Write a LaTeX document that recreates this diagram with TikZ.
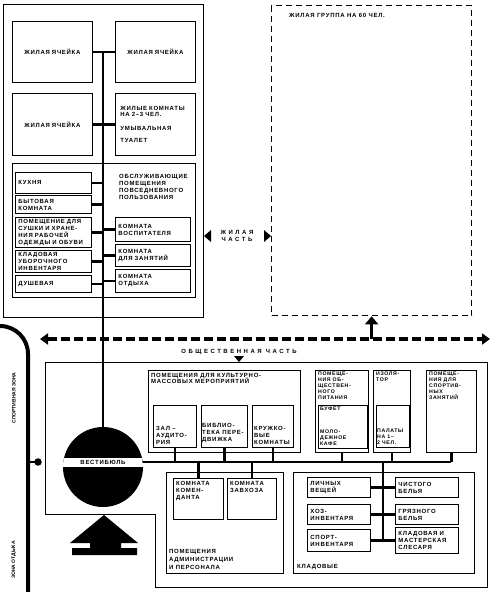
\documentclass[tikz,border=0pt]{standalone}
\usepackage{fontspec}
\usepackage{tikz}
\usetikzlibrary{
  arrows.meta,
  positioning,
  calc
}
\newfontfamily\labfont[LetterSpace=12]{Liberation Sans}
\newfontfamily\widefont[LetterSpace=42]{Liberation Sans}
\newfontfamily\narrowfont{Liberation Sans}
\newcommand\labsize{\fontsize{6pt}{7pt}\selectfont}
\newcommand\smallsize{\fontsize{5.2pt}{6pt}\selectfont}
\tikzset{
  room/.style={
    draw, line width=0.9pt, anchor=north west, inner xsep=3pt, inner ysep=1pt,
    align=left, font=\labfont\bfseries\labsize
  },
  cellbox/.style={room, align=center},
  hall/.style={draw, line width=0.9pt, anchor=north west, inner sep=0pt},
  zonebox/.style={draw, line width=1pt, anchor=north west, inner sep=0pt},
  groupbox/.style={draw, line width=1.3pt, dash pattern=on 6pt off 4pt, anchor=north west, inner sep=0pt},
  lbl/.style={inner sep=0pt, align=left, font=\labfont\bfseries\labsize},
  lblsmall/.style={inner sep=0pt, align=left, font=\labfont\bfseries\smallsize},
  widelbl/.style={inner sep=0pt, align=center, font=\widefont\bfseries\labsize},
  sidelbl/.style={inner sep=0pt, rotate=90, font=\narrowfont\bfseries\fontsize{5pt}{5pt}\selectfont},
  link/.style={line width=2.8pt},
  thinlink/.style={line width=2.2pt},
  zoneline/.style={line width=3.4pt, dash pattern=on 9pt off 4pt, {Triangle[length=8pt,width=11pt]}-{Triangle[length=8pt,width=11pt]}},
  uparrow/.style={line width=3.4pt, -{Triangle[length=8pt,width=13pt]}},
  sportline/.style={line width=4pt}
}

\begin{document}
\begin{tikzpicture}[x=1pt, y=-1pt]
  \fill[white, use as bounding box] (0,0) rectangle (493,592);

  % residential part
  \node[zonebox, minimum width=200pt, minimum height=313pt] (resid) at (3,4) {};
  \node[cellbox, text width=74pt, minimum height=61pt] (cellA) at (12,21) {ЖИЛАЯ ЯЧЕЙКА};
  \node[cellbox, text width=74pt, minimum height=61pt] (cellB) at (115,21) {ЖИЛАЯ ЯЧЕЙКА};
  \node[cellbox, text width=74pt, minimum height=62pt] (cellC) at (12,93) {ЖИЛАЯ ЯЧЕЙКА};
  \node[room, text width=70pt, inner xsep=5pt, minimum height=62pt] (rooms) at (115,93)
    {ЖИЛЫЕ КОМНАТЫ\\[-1.5pt]НА 2–3 ЧЕЛ.\\[7pt]УМЫВАЛЬНАЯ\\[5pt]ТУАЛЕТ};
  \node[hall, minimum width=183pt, minimum height=134pt] (serv) at (12,163) {};
  \node[lbl, anchor=north west] (servT) at (119,174) {ОБСЛУЖИВАЮЩИЕ\\ПОМЕЩЕНИЯ\\ПОВСЕДНЕВНОГО\\ПОЛЬЗОВАНИЯ};
  \node[room, text width=70pt, minimum height=21pt] (kitchen) at (15,172) {КУХНЯ};
  \node[room, text width=70pt, minimum height=18pt] (bytov) at (15,195) {БЫТОВАЯ\\КОМНАТА};
  \node[room, text width=70pt, minimum height=30pt] (sushka) at (15,217) {ПОМЕЩЕНИЕ ДЛЯ\\СУШКИ И ХРАНЕ-\\НИЯ РАБОЧЕЙ\\ОДЕЖДЫ И ОБУВИ};
  \node[room, text width=70pt, minimum height=22pt] (klad) at (15,250) {КЛАДОВАЯ\\УБОРОЧНОГО\\ИНВЕНТАРЯ};
  \node[room, text width=70pt, minimum height=17pt] (dush) at (15,275) {ДУШЕВАЯ};
  \node[room, text width=69pt, minimum height=24pt] (vosp) at (115,217) {КОМНАТА\\ВОСПИТАТЕЛЯ};
  \node[room, text width=69pt, minimum height=22pt] (zan) at (115,244) {КОМНАТА\\ДЛЯ ЗАНЯТИЙ};
  \node[room, text width=69pt, minimum height=23pt] (otd) at (115,269) {КОМНАТА\\ОТДЫХА};

  \node[groupbox, minimum width=200pt, minimum height=310pt] (grp) at (271,5) {};
  \node[lbl, anchor=west] (grpT) at (289,15) {ЖИЛАЯ ГРУППА НА 60 ЧЕЛ.};

  \node[widelbl] (zhT) at (237,236) {ЖИЛАЯ\\ЧАСТЬ};
  \fill (resid.east |- zhT) -- ++(7,-6) -- ++(0,12) -- cycle;
  \fill (grp.west |- zhT) -- ++(-7,-6) -- ++(0,12) -- cycle;

  \coordinate (pubL) at (40,339);
  \coordinate (pubR) at (490,339);
  \draw[zoneline] (pubL) -- (pubR);
  \draw[uparrow] (grp.south |- pubL) -- (grp.south);

  % public part
  \coordinate (pubTop) at (45,362);
  \node[widelbl] (pubT) at (239,352) {ОБЩЕСТВЕННАЯ ЧАСТЬ};
  \fill (pubT.south |- pubTop) -- ++(-5,-6) -- ++(10,0) -- cycle;
  \draw[line width=1pt] (pubTop) -| (487,587) -| (155,514) -- (45,514) -- cycle;

  \coordinate (sportA) at (28,354);
  \draw[sportline] (0,326) .. controls (15.5,326) and (28,338.5) .. (sportA) -- (28,595);
  \node[circle, fill, inner sep=0pt, minimum size=7.5pt] (sdot) at (38,462) {};
  \draw[line width=2pt] (sdot.center) -- (sdot.center -| sportA);
  \node[sidelbl] (sportT) at (14,398) {СПОРТИВНАЯ ЗОНА};
  \node[sidelbl] (restT) at (14,560) {ЗОНА ОТДЫХА};

  \node[circle, fill=black, minimum size=80pt, inner sep=0pt] (vest) at (103,467) {};
  \begin{scope}
    \clip (vest.center) circle (40pt);
    \fill[white] ($(vest.west)+(0,-9)$) rectangle (vest.east);
  \end{scope}
  \node[lbl] (vestT) at ($(vest.center)+(0,-4.5)$) {ВЕСТИБЮЛЬ};

  \coordinate (entr) at (104,515);
  \fill (entr) -- ++(34,28) -- ++(-17,0) -- ++(0,5) -- ++(16,0) -- ++(0,7) -- ++(-65,0)
    -- ++(0,-7) -- ++(18,0) -- ++(0,-5) -- ++(-20,0) -- cycle;

  \node[hall, minimum width=152pt, minimum height=82pt] (cult) at (148,370) {};
  \node[lbl, anchor=north west] (cultT) at (151,373) {ПОМЕЩЕНИЯ ДЛЯ КУЛЬТУРНО-\\[-1pt]МАССОВЫХ МЕРОПРИЯТИЙ};
  \node[hall, minimum width=43pt, minimum height=42pt] (zal) at (153,405) {};
  \node[lbl, anchor=south west] (zalT) at ($(zal.south west)+(3,-3)$) {ЗАЛ –\\АУДИТО-\\РИЯ};
  \node[hall, minimum width=46pt, minimum height=42pt] (bib) at (201,405) {};
  \node[lbl, anchor=south west] (bibT) at ($(bib.south west)+(1,-5)$) {БИБЛИО-\\ТЕКА ПЕРЕ-\\ДВИЖКА};
  \node[hall, minimum width=41pt, minimum height=42pt] (kruzh) at (252,405) {};
  \node[lbl, anchor=south west] (kruzhT) at ($(kruzh.south west)+(2,-3)$) {КРУЖКО-\\ВЫЕ\\КОМНАТЫ};

  \node[hall, minimum width=53pt, minimum height=82pt] (food) at (315,370) {};
  \node[lblsmall, anchor=north west] (foodT) at ($(food.north west)+(3,2)$) {ПОМЕЩЕ-\\НИЯ ОБ-\\ЩЕСТВЕН-\\НОГО\\ПИТАНИЯ};
  \node[hall, minimum width=49pt, minimum height=43pt] (bufet) at (318,405) {};
  \node[lblsmall, anchor=north west] (bufT) at ($(bufet.north west)+(2,2)$) {БУФЕТ};
  \node[lblsmall, anchor=south west] (cafeT) at ($(bufet.south west)+(2,-3)$) {МОЛО-\\ДЕЖНОЕ\\КАФЕ};

  \node[hall, minimum width=37pt, minimum height=82pt] (izol) at (373,370) {};
  \node[lblsmall, anchor=north west] (izolT) at ($(izol.north west)+(3,2)$) {ИЗОЛЯ-\\ТОР};
  \node[hall, minimum width=33pt, minimum height=42pt] (palat) at (376,405) {};
  \node[lblsmall, anchor=south west] (palatT) at ($(palat.south west)+(1,-3)$) {ПАЛАТЫ\\НА 1–\\2 ЧЕЛ.};

  \node[hall, minimum width=50pt, minimum height=82pt] (sportr) at (426,370) {};
  \node[lblsmall, anchor=north west] (sportrT) at ($(sportr.north west)+(3,2)$) {ПОМЕЩЕ-\\НИЯ ДЛЯ\\СПОРТИВ-\\НЫХ\\ЗАНЯТИЙ};

  \node[hall, minimum width=117pt, minimum height=101pt] (adm) at (166,472) {};
  \node[hall, minimum width=50pt, minimum height=41pt] (kom) at (173,478) {};
  \node[lbl, anchor=north west] (komT) at ($(kom.north west)+(3,3)$) {КОМНАТА\\КОМЕН-\\ДАНТА};
  \node[hall, minimum width=49pt, minimum height=41pt] (zavh) at (227,478) {};
  \node[lbl, anchor=north west] (zavhT) at ($(zavh.north west)+(3,3)$) {КОМНАТА\\ЗАВХОЗА};
  \node[lbl, anchor=south west] (admT) at ($(adm.south west)+(3,-4)$) {ПОМЕЩЕНИЯ\\[1pt]АДМИНИСТРАЦИИ\\[1pt]И ПЕРСОНАЛА};

  \node[hall, minimum width=181pt, minimum height=101pt] (stor) at (293,472) {};
  \node[room, text width=57pt, minimum height=20pt] (lich) at (307,477) {ЛИЧНЫХ\\ВЕЩЕЙ};
  \node[room, text width=57pt, minimum height=20pt] (hoz) at (307,504) {ХОЗ-\\ИНВЕНТАРЯ};
  \node[room, text width=57pt, minimum height=22pt] (spinv) at (307,529) {СПОРТ-\\ИНВЕНТАРЯ};
  \node[room, text width=57pt, minimum height=20pt] (chist) at (395,477) {ЧИСТОГО\\БЕЛЬЯ};
  \node[room, text width=57pt, minimum height=20pt] (gryaz) at (395,504) {ГРЯЗНОГО\\БЕЛЬЯ};
  \node[room, text width=57pt, minimum height=26pt] (mast) at (395,527) {КЛАДОВАЯ И\\МАСТЕРСКАЯ\\СЛЕСАРЯ};
  \node[lbl, anchor=west] (storT) at (297,567) {КЛАДОВЫЕ};

  % connections
  \draw[link] (vest.north |- cellA.east) -- (vest.north);
  \draw[link] (cellA.east) -- (cellB.west);
  \draw[link] (cellC.east) -- (rooms.west);
  \foreach \r in {kitchen, bytov, sushka, klad, dush}
    \draw[thinlink] (\r.east) -- (\r.east -| vest.north);
  \foreach \r in {vosp, zan, otd}
    \draw[thinlink] (\r.west) -- (\r.west -| vest.north);

  \coordinate (bus) at ($(vest.east)+(0,-5)$);
  \draw[link] (bus) -- (bus -| sportr.south);
  \foreach \r in {zal, bib, kruzh, food, izol, sportr}
    \draw[link] (\r.south) -- (\r.south |- bus);
  \foreach \r in {kom, zavh}
    \draw[link] (bus -| \r.north) -- (\r.north);
  \coordinate (kx) at ($(lich.east)!0.5!(chist.west)$);
  \draw[link] (bus -| kx) -- (kx |- spinv.east);
  \draw[thinlink] (lich.east) -- (chist.west);
  \draw[thinlink] (hoz.east) -- (gryaz.west);
  \draw[thinlink] (spinv.east) -- (mast.west);
\end{tikzpicture}
\end{document}
